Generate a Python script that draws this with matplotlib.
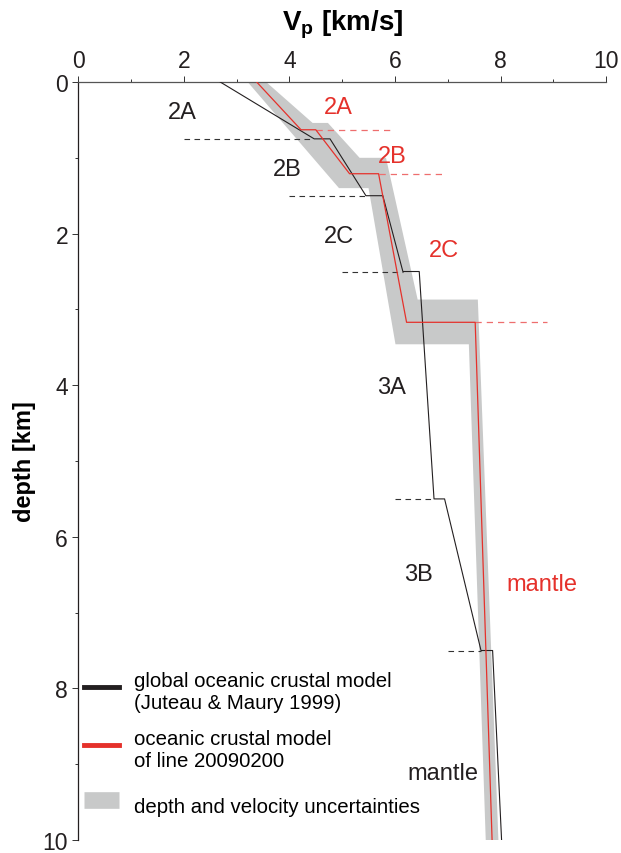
import matplotlib
matplotlib.use("Agg")
import matplotlib.pyplot as plt
from matplotlib.lines import Line2D
from matplotlib.patches import Polygon
from matplotlib.ticker import MultipleLocator

matplotlib.rcParams.update({
    "font.family": ["Liberation Sans", "DejaVu Sans"],
    "mathtext.default": "regular",
})

RED = "#e5312b"
RED_DASH = "#ee6e6e"
BLACK = "#231f20"
GRAY = "#c8c9c9"

# global oceanic crustal model (Juteau & Maury 1999)
black_v = [2.69, 4.47, 4.77, 5.45, 5.77, 6.15, 6.46, 6.74, 6.94, 7.63, 7.85, 8.02]
black_z = [0.0, 0.75, 0.75, 1.5, 1.5, 2.5, 2.5, 5.5, 5.5, 7.5, 7.5, 10.0]

# oceanic crustal model of line 20090200
red_v = [3.38, 4.22, 4.50, 5.14, 5.69, 6.22, 7.52, 7.84]
red_z = [0.0, 0.63, 0.63, 1.21, 1.21, 3.17, 3.17, 10.0]

# uncertainty band outline
band_v = [3.56, 4.44, 4.73, 5.33, 5.83, 6.43, 7.57, 7.96,
          7.72, 7.40, 6.01, 5.50, 4.94, 3.21]
band_z = [0.0, 0.54, 0.54, 1.00, 1.00, 2.87, 2.87, 10.0,
          10.0, 3.46, 3.46, 1.40, 1.40, 0.0]

# layer boundaries
black_bnd_z = [0.75, 1.5, 2.5, 5.5, 7.5]
black_bnd_v0 = [2.0, 4.0, 5.0, 6.0, 7.0]
black_bnd_v1 = [4.47, 5.45, 6.15, 6.74, 7.63]
red_bnd_z = [0.63, 1.21, 3.17]
red_bnd_v0 = [4.50, 5.69, 7.52]
red_bnd_v1 = [5.92, 6.92, 8.88]

black_labels = ["2A", "2B", "2C", "3A", "3B", "mantle"]
black_lab_v = [1.97, 3.96, 4.93, 5.93, 6.44, 6.90]
black_lab_z = [0.39, 1.15, 2.03, 4.02, 6.49, 9.11]
red_labels = ["2A", "2B", "2C", "mantle"]
red_lab_v = [4.93, 5.95, 6.92, 8.78]
red_lab_z = [0.33, 0.97, 2.21, 6.62]

fig = plt.figure(figsize=(6.21, 8.54), dpi=100, facecolor="white")
ax = fig.add_axes([0.126, 0.0152, 0.850, 0.8876])

ax.add_patch(Polygon(list(zip(band_v, band_z)), closed=True,
                     facecolor=GRAY, edgecolor="none", zorder=1))
ax.plot(black_v, black_z, color=BLACK, lw=0.8, zorder=3)
ax.plot(red_v, red_z, color=RED, lw=0.9, zorder=4)

for z, v0, v1 in zip(black_bnd_z, black_bnd_v0, black_bnd_v1):
    ax.plot([v0, v1], [z, z], color="#333333", lw=0.8, ls=(0, (5, 4)), zorder=2)
for z, v0, v1 in zip(red_bnd_z, red_bnd_v0, red_bnd_v1):
    ax.plot([v0, v1], [z, z], color=RED_DASH, lw=0.9, ls=(0, (5, 4)), zorder=2)

for t, v, z in zip(black_labels, black_lab_v, black_lab_z):
    ax.text(v, z, t, color=BLACK, fontsize=17, ha="center", va="center")
for t, v, z in zip(red_labels, red_lab_v, red_lab_z):
    ax.text(v, z, t, color=RED, fontsize=17, ha="center", va="center")

ax.set_xlim(0, 10)
ax.set_ylim(10, 0)
ax.xaxis.set_ticks_position("top")
ax.xaxis.set_label_position("top")
ax.xaxis.set_major_locator(MultipleLocator(2))
ax.xaxis.set_minor_locator(MultipleLocator(1))
ax.yaxis.set_major_locator(MultipleLocator(2))
ax.yaxis.set_minor_locator(MultipleLocator(1))
ax.tick_params(which="major", length=4.3, width=0.7, labelsize=16.5, pad=3,
               color="#333333", labelcolor=BLACK)
ax.tick_params(which="minor", length=2.5, width=0.7, color="#333333")
ax.spines["right"].set_visible(False)
ax.spines["bottom"].set_visible(False)
ax.spines["top"].set_color("#555555")
ax.spines["left"].set_color(BLACK)
for s in ("top", "left"):
    ax.spines[s].set_linewidth(0.9)

ax.set_xlabel("V$_{p}$ [km/s]", fontsize=20, fontweight="bold", labelpad=14)
ax.set_ylabel("depth [km]", fontsize=17, fontweight="bold", labelpad=5)

handles = [
    Line2D([], [], color=BLACK, lw=3.5),
    Line2D([], [], color=RED, lw=3.5),
    Line2D([], [], color=GRAY, lw=12, solid_capstyle="butt"),
]
labels = [
    "global oceanic crustal model\n(Juteau & Maury 1999)",
    "oceanic crustal model\nof line 20090200",
    "depth and velocity uncertainties",
]
leg = ax.legend(handles, labels, loc="upper left", bbox_to_anchor=(0.011, 0.223),
                frameon=False, fontsize=14.7, handlelength=1.7, handletextpad=0.75,
                handleheight=2.3, labelspacing=0.85, borderpad=0, borderaxespad=0)
for t in leg.get_texts():
    t.set_linespacing(1.2)

fig.savefig("out.png", dpi=100, facecolor="white")
